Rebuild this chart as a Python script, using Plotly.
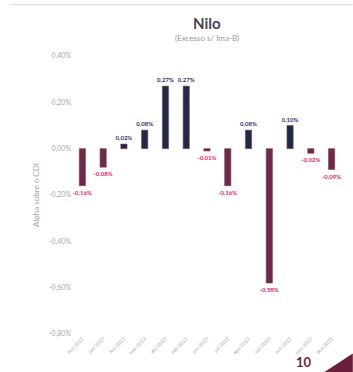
import plotly.graph_objects as go

# Monthly alpha over the benchmark, in percentage points
months = ["dez/2022", "jan/2023", "fev/2023", "mar/2023", "abr/2023", "mai/2023",
          "jun/2023", "jul/2023", "ago/2023", "set/2023", "out/2023", "nov/2023", "dez/2023"]
alpha = [-0.16, -0.08, 0.02, 0.08, 0.27, 0.27, -0.01, -0.16, 0.08, -0.58, 0.10, -0.02, -0.09]
y_ticks = [0.4, 0.2, 0.0, -0.2, -0.4, -0.6, -0.8]
y_tick_text = ["0,40%", "0,20%", "0,00%", "-0,20%", "-0,40%", "-0,60%", "-0,80%"]

POS_BAR = "#1f2b44"
NEG_BAR = "#6a2c49"
POS_TXT = "#3a2c6a"
NEG_TXT = "#e0226c"

bar_colors = [POS_BAR if v >= 0 else NEG_BAR for v in alpha]
txt_colors = [POS_TXT if v >= 0 else NEG_TXT for v in alpha]

fig = go.Figure()
fig.add_trace(go.Bar(
    x=months, y=alpha,
    marker=dict(color=bar_colors, line=dict(color="#8a3a5e", width=0.6)),
    texttemplate="<b>%{y:.2f}%</b>",
    textposition="outside",
    constraintext="none",
    textfont=dict(size=6, color=txt_colors, family="Lato"),
    cliponaxis=False,
    hoverinfo="skip",
))

fig.update_layout(
    width=353, height=372,
    margin=dict(l=72, r=11, t=56, b=38),
    paper_bgcolor="white", plot_bgcolor="white",
    separators=", ",
    bargap=0.7,
    showlegend=False,
    font=dict(family="Lato", color="#999999"),
    xaxis=dict(
        tickangle=-45, tickfont=dict(size=5, color="#aaaaaa"),
        showgrid=False, showline=False, zeroline=False, ticks="",
    ),
    yaxis=dict(
        range=[-0.8, 0.4], tickvals=y_ticks, ticktext=y_tick_text,
        tickfont=dict(size=7, color="#a8a8a8"),
        showgrid=False, zeroline=False, showline=False, ticks="",
        title=dict(text="Alpha sobre o CDI", font=dict(size=8, color="#a8a8a8"), standoff=8),
    ),
)

# Title and subtitle
fig.add_annotation(text="<b>Nilo</b>", xref="paper", yref="paper", x=0.5, y=1.119,
                   xanchor="center", yanchor="middle", showarrow=False,
                   font=dict(size=15, color="#4f3f56", family="Lato"))
fig.add_annotation(text="(Excesso s/ Ima-B)", xref="paper", yref="paper", x=0.5, y=1.065,
                   xanchor="center", yanchor="middle", showarrow=False,
                   font=dict(size=8, color="#9a9a9a", family="Lato"))

# Page number and corner marker
fig.add_annotation(text="<b>10</b>", xref="paper", yref="paper", x=0.86, y=-0.135,
                   xanchor="center", yanchor="bottom", showarrow=False,
                   font=dict(size=13, color="#6a1f3c", family="Lato"))
fig.add_shape(type="path", xref="paper", yref="paper",
              path="M 0.93 -0.14 L 1.04 -0.14 L 1.04 -0.07 Z",
              fillcolor="#6a1f3c", line=dict(width=0))
# Thin frame line along the top
fig.add_shape(type="line", xref="paper", yref="paper", x0=-0.23, x1=1.04, y0=1.185, y1=1.185,
              line=dict(color="#dddddd", width=1))

fig.write_html("out.html")
